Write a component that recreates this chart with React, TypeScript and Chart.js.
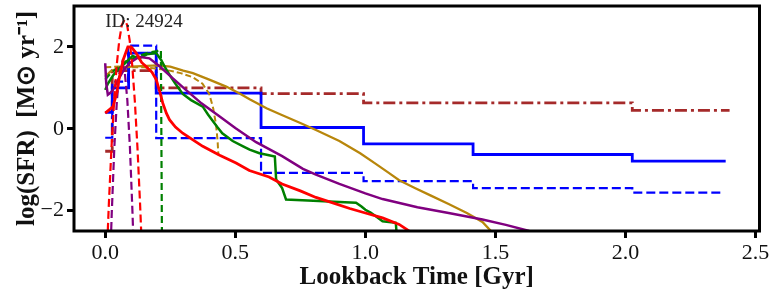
import React, { useEffect, useRef } from 'react';
import { Chart, registerables } from 'chart.js';

Chart.register(...registerables);

const X_TICKS = [0, 0.5, 1, 1.5, 2, 2.5];
const Y_TICKS = [-2, 0, 2];
const GALAXY_ID = 'ID: 24924';

// Step SFHs (bin edges, value holds until next edge)
const blueSolidX = [0, 0.027, 0.09, 0.196, 0.599, 0.993, 1.414, 2.026, 2.385];
const blueSolidY = [0.4, 1.0, 1.85, 0.87, 0.03, -0.37, -0.63, -0.79, -0.79];
const blueDashX = [0, 0.027, 0.088, 0.196, 0.599, 0.993, 1.414, 2.026, 2.37];
const blueDashY = [-0.22, 1.15, 2.03, -0.23, -1.08, -1.28, -1.45, -1.56, -1.56];
const brownX = [0, 0.027, 0.196, 0.599, 0.993, 2.026, 2.4];
const brownY = [-0.55, 1.42, 1.0, 0.86, 0.63, 0.45, 0.45];

// Continuous SFHs
const goldX = [0, 0.02, 0.05, 0.1, 0.2, 0.25, 0.3, 0.337, 0.4, 0.465, 0.52, 0.555, 0.62, 0.67, 0.75, 0.81, 0.9, 0.98, 1.04, 1.09, 1.13, 1.19, 1.25, 1.32, 1.39, 1.45, 1.49];
const goldY = [1.27, 1.4, 1.48, 1.52, 1.55, 1.52, 1.42, 1.36, 1.2, 1.03, 0.85, 0.72, 0.5, 0.36, 0.14, -0.03, -0.3, -0.6, -0.86, -1.08, -1.26, -1.45, -1.63, -1.84, -2.06, -2.28, -2.55];
const goldDashX = [0, 0.05, 0.1, 0.15, 0.2, 0.247, 0.29, 0.336, 0.374, 0.4, 0.415, 0.426, 0.432, 0.435];
const goldDashY = [1.5, 1.52, 1.5, 1.5, 1.47, 1.42, 1.36, 1.26, 1.1, 0.85, 0.5, 0.1, -0.3, -0.65];
const greenX = [0, 0.01, 0.03, 0.05, 0.08, 0.105, 0.13, 0.16, 0.196, 0.215, 0.23, 0.247, 0.27, 0.298, 0.33, 0.375, 0.395, 0.41, 0.43, 0.45, 0.49, 0.53, 0.555, 0.593, 0.625, 0.652, 0.657, 0.68, 0.695, 0.8, 0.9, 0.964, 0.985, 1.0, 1.02, 1.04, 1.066, 1.117, 1.12];
const greenY = [0.95, 1.1, 1.3, 1.45, 1.62, 1.78, 1.72, 1.82, 1.85, 1.68, 1.5, 1.32, 1.1, 0.85, 0.7, 0.54, 0.35, 0.22, 0.05, -0.11, -0.3, -0.43, -0.51, -0.6, -0.64, -0.68, -1.24, -1.45, -1.73, -1.76, -1.79, -1.81, -1.9, -1.98, -2.05, -2.14, -2.26, -2.3, -2.55];
const greenDashX = [0, 0.02, 0.05, 0.08, 0.12, 0.16, 0.2, 0.214, 0.218];
const greenDashY = [1.2, 1.35, 1.5, 1.65, 1.75, 1.85, 1.9, 1.93, -2.6];
const purpleX = [0, 0.004, 0.01, 0.02, 0.03, 0.05, 0.07, 0.093, 0.13, 0.17, 0.21, 0.26, 0.31, 0.37, 0.44, 0.5, 0.58, 0.68, 0.76, 0.81, 0.9, 1.0, 1.066, 1.2, 1.32, 1.45, 1.54, 1.63];
const purpleY = [1.6, 1.1, 0.83, 0.88, 0.95, 1.2, 1.42, 1.6, 1.76, 1.72, 1.52, 1.23, 0.95, 0.62, 0.3, 0.02, -0.33, -0.67, -0.98, -1.12, -1.35, -1.58, -1.72, -1.92, -2.06, -2.22, -2.35, -2.5];
const purpleDashX = [0.02, 0.025, 0.035, 0.045, 0.055, 0.065, 0.075, 0.085, 0.095, 0.105, 0.11];
const purpleDashY = [-3.06, -2.08, -0.46, 0.7, 1.39, 1.62, 1.39, 0.7, -0.46, -2.08, -3.06];
const redX = [0, 0.03, 0.045, 0.055, 0.07, 0.087, 0.1, 0.119, 0.14, 0.157, 0.18, 0.196, 0.21, 0.221, 0.235, 0.247, 0.27, 0.298, 0.375, 0.44, 0.503, 0.554, 0.63, 0.68, 0.75, 0.81, 0.86, 0.94, 1.0, 1.066, 1.13, 1.18];
const redY = [0.38, 0.54, 0.9, 1.28, 1.7, 2.0, 2.0, 1.85, 1.62, 1.52, 1.38, 1.2, 0.9, 0.63, 0.38, 0.22, 0.04, -0.11, -0.43, -0.65, -0.84, -1.02, -1.18, -1.35, -1.52, -1.68, -1.78, -1.95, -2.06, -2.18, -2.34, -2.55];
const redDashX = [0.008, 0.014, 0.024, 0.034, 0.044, 0.054, 0.064, 0.074, 0.084, 0.094, 0.104, 0.114, 0.124, 0.134, 0.14];
const redDashY = [-2.79, -1.84, -0.47, 0.66, 1.54, 2.16, 2.54, 2.66, 2.54, 2.16, 1.54, 0.66, -0.47, -1.84, -2.79];

const zip = (xs: number[], ys: number[]) => xs.map((x, i) => ({ x, y: ys[i] }));

const SERIF = '"Liberation Serif", "Times New Roman", serif';

const framePlugin = {
  id: 'frameAndLabel',
  afterDraw(chart: any) {
    const { ctx, chartArea } = chart;
    ctx.save();
    ctx.strokeStyle = '#000';
    ctx.lineWidth = 3;
    ctx.strokeRect(chartArea.left, chartArea.top, chartArea.right - chartArea.left, chartArea.bottom - chartArea.top);
    ctx.fillStyle = '#222';
    ctx.font = `19px ${SERIF}`;
    ctx.textBaseline = 'alphabetic';
    ctx.textAlign = 'left';
    const xs = chart.scales.x;
    ctx.fillText(GALAXY_ID, xs.getPixelForValue(0), 26.5);
    ctx.restore();
  },
};

export default function App() {
  const ref = useRef<HTMLCanvasElement | null>(null);
  useEffect(() => {
    if (!ref.current) return;
    const ds = (data: any, color: string, width: number, dash: number[], order: number, stepped: any = false) => ({
      data,
      borderColor: color,
      backgroundColor: color,
      borderWidth: width,
      borderDash: dash,
      pointRadius: 0,
      tension: 0,
      stepped,
      fill: false,
      order,
      clip: 0,
      borderCapStyle: 'butt',
      borderJoinStyle: 'miter',
    });
    const chart = new Chart(ref.current, {
      type: 'line',
      data: {
        datasets: [
          ds(zip(redX, redY), '#ff0000', 2.8, [], 0),
          ds(zip(redDashX, redDashY), '#ff0000', 2.2, [8, 4], 1),
          ds(zip(purpleX, purpleY), '#800080', 2.5, [], 2),
          ds(zip(purpleDashX, purpleDashY), '#800080', 2.2, [8, 4], 3),
          ds(zip(greenX, greenY), '#008000', 2.5, [], 4),
          ds(zip(greenDashX, greenDashY), '#008000', 2.2, [7, 4], 5),
          ds(zip(goldX, goldY), '#b8860b', 2.3, [], 6),
          ds(zip(goldDashX, goldDashY), '#b8860b', 2, [6, 3], 7),
          ds(zip(blueSolidX, blueSolidY), '#0000ff', 2.8, [], 8, 'before'),
          ds(zip(blueDashX, blueDashY), '#0000ff', 2.2, [9, 4], 9, 'before'),
          ds(zip(brownX, brownY), '#a52a2a', 2.8, [12, 4, 3, 4], 10, 'before'),
        ],
      },
      options: {
        responsive: false,
        animation: false,
        devicePixelRatio: 1,
        layout: { padding: { left: 0, top: 6, right: 13.5, bottom: 0 } },
        plugins: { legend: { display: false }, tooltip: { enabled: false } },
        scales: {
          x: {
            type: 'linear',
            min: -0.12,
            max: 2.515,
            afterFit: (s: any) => { s.height = 65; s.paddingLeft = 0; s.paddingRight = 0; },
            afterBuildTicks: (s: any) => { s.ticks = X_TICKS.map((v) => ({ value: v })); },
            ticks: {
              color: '#111',
              font: { family: SERIF, size: 22 },
              padding: 2,
              maxRotation: 0,
              autoSkip: false,
              callback: (v: any) => Number(v).toFixed(1),
            },
            grid: { drawOnChartArea: false, drawTicks: true, tickLength: 7, tickWidth: 3, tickColor: '#000', color: '#000' },
            border: { display: false },
            title: {
              display: true,
              text: 'Lookback Time [Gyr]',
              color: '#111',
              font: { family: SERIF, size: 25, weight: 'bold' },
              padding: { top: 0, bottom: 3 },
            },
          },
          y: {
            type: 'linear',
            min: -2.5,
            max: 3.0,
            afterFit: (s: any) => { s.width = 74; s.paddingTop = 0; s.paddingBottom = 0; },
            afterBuildTicks: (s: any) => { s.ticks = Y_TICKS.map((v) => ({ value: v })); },
            ticks: {
              color: '#111',
              font: { family: SERIF, size: 22 },
              padding: 3,
              autoSkip: false,
              callback: (v: any) => (v < 0 ? '\u2212' + Math.abs(v) : String(v)),
            },
            grid: { drawOnChartArea: false, drawTicks: true, tickLength: 7, tickWidth: 3, tickColor: '#000', color: '#000' },
            border: { display: false },
            title: {
              display: true,
              text: 'log(SFR)  [M\u2299 yr\u207B\u00B9]',
              color: '#111',
              font: { family: SERIF, size: 25, weight: 'bold' },
              padding: { top: 13, bottom: 0 },
            },
          },
        },
      },
      plugins: [framePlugin],
    } as any);
    return () => chart.destroy();
  }, []);
  return (
    <div style={{ position: 'absolute', left: 0, top: 0, width: 773, height: 296, background: '#fff' }}>
      <canvas ref={ref} width={773} height={296} />
    </div>
  );
}
